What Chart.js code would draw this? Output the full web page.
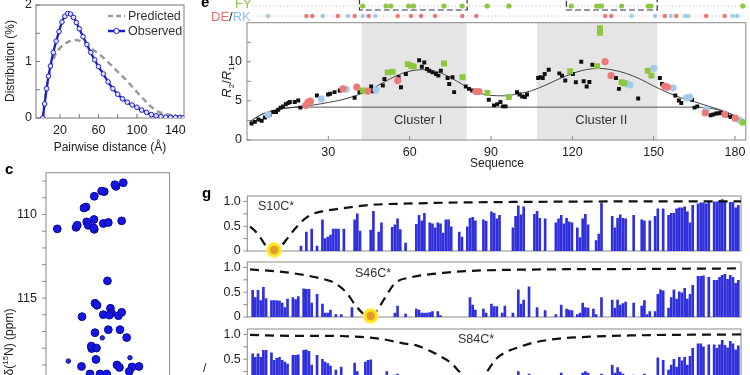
<!DOCTYPE html>
<html>
<head>
<meta charset="utf-8">
<script src="https://cdn.jsdelivr.net/npm/chart.js@4.4.1/dist/chart.umd.min.js"></script>
<style>
  html, body { margin: 0; padding: 0; background: #fff; }
  body { width: 750px; height: 375px; overflow: hidden; position: relative;
         font-family: "Liberation Sans", Arial, sans-serif; color: #222; }
  canvas { position: absolute; }
  .t { position: absolute; font-size: 12px; white-space: nowrap; line-height: 1; }
  .rot { transform: translate(-50%, -50%) rotate(-90deg); }
  .b { font-weight: bold; font-size: 15px; color: #000; }
  sup, sub { font-size: 8px; line-height: 0; }
</style>
</head>
<body>
<canvas id="cB" style="left:0;top:0" width="200" height="160"></canvas>
<canvas id="cC" style="left:0;top:160px" width="200" height="230"></canvas>
<canvas id="cE" style="left:200px;top:0" width="550" height="170"></canvas>
<canvas id="cG1" style="left:200px;top:187.3px" width="550" height="73"></canvas>
<canvas id="cG2" style="left:200px;top:253px" width="550" height="73"></canvas>
<canvas id="cG3" style="left:200px;top:320.3px" width="550" height="73"></canvas>

<div class="t rot" style="left:10px;top:61px">Distribution (%)</div>
<div class="t" style="left:110px;top:147px;transform:translate(-50%,-50%)">Pairwise distance (Å)</div>
<div class="t b" style="left:5px;top:161px">c</div>
<div class="t rot" style="left:9px;top:342px">δ(<sup>15</sup>N) (ppm)</div>
<div class="t b" style="left:201px;top:-6px">e</div>
<div class="t" style="left:235px;top:-3px;font-size:13px;color:#8dc63f">FY</div>
<div class="t" style="left:211px;top:10px;font-size:13px"><span style="color:#ea6f6c">DE</span>/<span style="color:#8fc3ea">RK</span></div>
<div class="t rot" style="left:226px;top:82px;font-size:13px"><i>R</i><sub>2</sub>/<i>R</i><sub>1</sub></div>
<div class="t" style="left:497px;top:163px;transform:translate(-50%,-50%)">Sequence</div>
<div class="t b" style="left:202px;top:185px">g</div>
<div class="t" style="left:203px;top:362px">/</div>

<script>
// ---- b: pairwise distance distribution
const distX = [2, 4, 6, 8, 10, 13, 16, 19, 22, 25, 28, 31, 34, 37, 40, 44, 48, 52, 56, 60, 65, 70, 75, 80, 85, 90, 95, 100, 105, 110, 115, 120, 125, 130, 135, 140, 145, 148];
const observed = [0, 0.25, 0.52, 0.74, 0.92, 1.16, 1.36, 1.53, 1.70, 1.80, 1.85, 1.84, 1.78, 1.69, 1.58, 1.44, 1.30, 1.16, 1.03, 0.91, 0.78, 0.64, 0.52, 0.42, 0.34, 0.28, 0.23, 0.19, 0.14, 0.10, 0.06, 0.04, 0.025, 0.015, 0.01, 0.01, 0.01, 0];
const predX = [2, 5, 8, 12, 16, 20, 25, 30, 35, 40, 45, 50, 55, 60, 70, 80, 90, 100, 110, 120, 130, 140, 148];
const predicted = [0, 0.40, 0.72, 0.98, 1.15, 1.24, 1.31, 1.36, 1.38, 1.37, 1.33, 1.27, 1.20, 1.14, 0.99, 0.82, 0.65, 0.46, 0.28, 0.13, 0.07, 0.04, 0.02];
const seriesNames = ['Predicted', 'Observed'];
const distTicks = [20, 40, 60, 80, 100, 120, 140];
const distLabels = [20, 60, 100, 140];
const distYTicks = [0, 0.5, 1, 1.5, 2];
const distYLabels = [0, 1, 2];

// ---- c: 15N HSQC peaks [1H ppm, 15N ppm]
const hsqcStrong = [[8.325,108.10],[8.407,108.32],[8.42,108.22],[8.540,108.63],[8.57,108.60],[8.653,108.91],[8.747,109.55],[8.770,109.61],[9.072,110.86],[8.860,110.77],[8.846,110.64],[8.739,110.44],[8.721,110.65],[8.656,110.30],[8.653,110.89],[8.66,110.80],[8.551,110.54],[8.494,110.48],[8.343,110.38],[8.504,113.97],[8.645,115.31],[8.622,115.43],[8.792,116.11],[8.551,115.99],[8.470,115.61],[8.458,115.89],[8.483,116.02],[8.379,116.05],[8.343,115.85],[8.645,117.07],[8.494,116.89],[8.362,116.89],[8.286,117.36],[8.682,118.02],[8.687,117.87],[8.628,117.99],[8.634,118.67],[8.798,119.09],[8.396,119.00],[8.368,119.15],[8.226,119.12],[8.147,119.09],[8.257,119.39],[8.702,119.54],[8.588,119.54],[8.513,119.54]];
const hsqcWeak = [[8.562,117.38],[8.947,118.77],[8.249,118.57]];
const ppmTicks = [108, 109, 110, 111, 112, 113, 114, 115, 116, 117, 118, 119, 120];
const ppmLabels = [110, 115, 120];

// ---- e: R2/R1 along the sequence [residue, R2/R1]
const otherPts = [[1.7,2.11],[2.9,2.32],[4.2,2.62],[5.4,2.45],[6.6,2.87],[8.5,3.25],[9.7,3.59],[10.7,3.59],[11.5,3.88],[12.4,4.14],[13.3,4.30],[14.3,4.56],[15.2,4.73],[15.8,4.85],[17.6,4.85],[18.9,5.06],[19.7,4.14],[25.8,5.70],[29.9,5.82],[30.7,5.91],[32.3,6.12],[34.2,6.33],[39.7,5.40],[41.5,6.12],[45.8,6.84],[46.4,6.24],[50.1,6.96],[50.7,7.81],[55.9,8.02],[56.8,6.75],[58.6,8.44],[63.5,10.21],[64.5,9.37],[65.4,9.92],[66.4,9.07],[67.2,8.86],[68.4,8.65],[69.7,8.44],[70.6,8.23],[71.5,8.86],[74.0,7.93],[74.6,7.17],[75.8,8.02],[76.4,6.12],[80.7,6.84],[81.9,6.54],[83.1,6.33],[89.2,5.15],[91.1,4.43],[92.3,4.56],[93.5,4.85],[94.4,4.30],[95.4,4.30],[99.6,6.12],[100.5,5.82],[101.5,5.57],[102.5,5.49],[103.3,5.82],[107.4,7.93],[108.2,8.02],[109.1,7.93],[109.8,8.44],[111.3,8.99],[115.2,8.52],[116.2,8.23],[117.4,7.60],[120.2,8.44],[121.3,7.39],[123.3,10.0],[124.2,7.51],[125.3,6.84],[126.3,7.43],[127.4,9.62],[136.1,7.93],[137.2,6.54],[144.3,5.32],[152.3,7.93],[153.1,7.17],[158.0,5.70],[159.3,5.06],[160.2,4.73],[164.2,5.15],[165.1,4.14],[166.1,4.30],[171.0,3.17],[172.0,3.25],[173.1,3.38],[174.0,3.42],[174.9,3.46],[177.1,3.17],[178.4,2.95]];
const fyPts = [[42.7,6.33],[51.9,8.65],[53.7,8.73],[59.3,9.70],[60.5,9.49],[61.5,9.41],[72.7,9.79],[79.5,8.02],[88.7,6.0],[96.6,5.49],[119.2,8.78],[129.1,9.45],[130.2,14.3],[130.2,13.7],[138.2,7.39],[139.2,7.26],[147.8,8.86],[149.2,8.23],[182.9,2.24]];
const dePts = [[21.7,4.43],[22.5,4.85],[23.4,4.98],[35.4,6.54],[40.5,6.75],[44.6,6.24],[55.6,7.60],[84.4,6.20],[85.6,6.20],[132.1,10.04],[134.3,8.23],[154.1,6.88],[155.1,6.75],[169.0,3.46],[176.2,3.29],[180.1,2.79]];
const rkPts = [[7.8,3.25],[27.4,5.23],[36.6,6.50],[47.6,6.41],[140.0,7.17],[141.3,7.05],[150.1,9.16],[157.2,6.67],[162.1,5.40],[163.3,5.49],[169.4,3.88],[181.7,2.53]];
const curveX = [1, 3, 5, 8, 12, 16, 20, 25, 30, 35, 40, 45, 50, 55, 60, 65, 70, 75, 80, 85, 90, 95, 100, 105, 110, 115, 120, 125, 130, 135, 140, 145, 150, 155, 160, 165, 170, 175, 180, 184];
const fitCurve = [2.3, 2.8, 3.2, 3.6, 3.95, 4.15, 4.3, 4.5, 4.8, 5.15, 5.65, 6.35, 7.3, 8.2, 8.8, 9.0, 8.75, 8.0, 7.0, 6.1, 5.7, 5.65, 5.9, 6.3, 7.0, 7.8, 8.5, 9.0, 9.15, 8.95, 8.5, 7.8, 6.9, 6.1, 5.4, 4.9, 4.35, 3.8, 3.1, 2.4];
const coilCurve = [2.3, 2.8, 3.2, 3.6, 3.95, 4.12, 4.2, 4.2, 4.2, 4.2, 4.2, 4.2, 4.2, 4.2, 4.2, 4.2, 4.2, 4.2, 4.2, 4.2, 4.2, 4.2, 4.2, 4.2, 4.2, 4.2, 4.2, 4.2, 4.2, 4.2, 4.2, 4.2, 4.2, 4.2, 4.2, 4.2, 4.1, 3.75, 3.1, 2.4];
const clusterFrom = [42.3, 107];
const clusterTo = [81, 151.4];
const clusterNames = ['Cluster I', 'Cluster II'];
const fyTrack = [42.7, 51.3, 53.1, 59.6, 61.4, 72.7, 79.4, 88.6, 96.6, 119.6, 129, 130, 130.8, 138.2, 148, 149, 182.9];
const deTrack = [21.9, 24.1, 33.5, 39.7, 44.9, 55.6, 60.5, 64.2, 69.4, 79.4, 84.6, 132.1, 134.3, 154.1, 158.4, 169.4, 176.2];
const rkTrack = [7.8, 28.0, 37.2, 42.7, 47.4, 141.9, 150.5, 156.3, 161.5, 162.7, 179.2, 180.8];
const fyBoxFrom = [41.5, 117.8];
const fyBoxTo = [81.2, 151.3];
const seqTicks = [30, 60, 90, 120, 150, 180];
const r2r1Ticks = [0, 2.5, 5, 7.5, 10, 12.5];
const r2r1Labels = [0, 5, 10];

// ---- g: PRE intensity ratios [residue, I/I0]
const s10Bars = [[20,0.10],[22,0.38],[24,0.44],[26,0.10],[28,0.63],[29,0.25],[30,0.28],[31,0.32],[32,0.44],[33,0.44],[34,0.44],[36,0.44],[40,0.63],[41,0.75],[42,0.40],[46,0.42],[47,0.80],[49,0.38],[50,0.57],[54,0.48],[55,0.53],[56,0.65],[57,0.43],[59,0.16],[63,0.54],[64,0.72],[65,0.61],[66,0.76],[68,0.57],[69,0.55],[70,0.47],[71,0.57],[72,0.55],[73,0.36],[74,0.63],[75,0.63],[76,0.49],[79,0.38],[80,0.28],[82,0.49],[83,0.66],[84,0.68],[85,0.61],[88,0.63],[89,0.60],[91,0.79],[92,0.76],[93,0.65],[94,0.72],[99,0.47],[100,0.70],[101,0.91],[102,0.73],[103,0.89],[107,0.74],[108,0.80],[109,0.66],[111,0.65],[115,0.57],[116,0.65],[117,0.72],[118,0.55],[119,0.66],[120,0.59],[121,0.57],[123,0.47],[124,0.27],[125,0.65],[126,0.74],[127,0.53],[130,0.21],[131,0.34],[132,0.97],[136,0.70],[137,0.47],[138,0.66],[139,0.73],[140,0.66],[141,0.65],[144,0.72],[147,0.63],[148,0.61],[150,0.61],[152,0.70],[153,0.85],[155,0.85],[157,0.72],[158,0.76],[159,0.76],[160,0.85],[161,0.87],[162,0.87],[163,0.89],[164,0.79],[165,0.57],[166,0.92],[168,0.95],[169,0.97],[170,0.97],[171,0.95],[172,0.98],[174,0.99],[175,0.99],[176,1.01],[177,1.04],[178,0.99],[180,0.98],[181,0.98],[182,0.87],[183,0.92]];
const s46Bars = [[2,0.54],[3,0.39],[4,0.54],[5,0.33],[6,0.60],[7,0.37],[9,0.33],[10,0.33],[11,0.33],[12,0.32],[13,0.28],[14,0.19],[15,0.36],[17,0.39],[18,0.35],[19,0.41],[21,0.57],[22,0.56],[23,0.56],[24,0.28],[26,0.46],[28,0.26],[29,0.08],[30,0.08],[31,0.14],[33,0.05],[35,0.05],[39,0.19],[55,0.08],[56,0.22],[59,0.06],[63,0.16],[64,0.14],[65,0.08],[66,0.08],[67,0.08],[68,0.09],[69,0.11],[71,0.11],[72,0.03],[83,0.39],[84,0.24],[85,0.14],[88,0.16],[89,0.08],[91,0.26],[92,0.21],[93,0.21],[95,0.08],[96,0.22],[99,0.08],[101,0.55],[102,0.26],[103,0.34],[105,0.61],[108,0.19],[111,0.13],[115,0.05],[117,0.24],[119,0.16],[120,0.14],[121,0.13],[123,0.05],[124,0.08],[125,0.28],[126,0.19],[127,0.18],[129,0.16],[130,0.05],[132,0.39],[136,0.34],[137,0.18],[138,0.34],[139,0.24],[140,0.27],[141,0.30],[144,0.28],[147,0.22],[148,0.33],[149,0.05],[150,0.11],[152,0.11],[153,0.46],[154,0.55],[155,0.53],[157,0.18],[158,0.39],[159,0.55],[160,0.36],[161,0.51],[162,0.49],[163,0.58],[164,0.36],[165,0.46],[166,0.64],[168,0.82],[169,0.82],[170,0.83],[172,0.80],[174,0.74],[175,0.74],[176,0.80],[177,0.84],[178,0.86],[179,0.76],[180,0.84],[181,0.80],[182,0.68],[183,0.74]];
const s84Bars = [[2,0.61],[3,0.54],[4,0.61],[5,0.54],[6,0.68],[7,0.68],[9,0.63],[10,0.48],[11,0.52],[12,0.54],[13,0.48],[14,0.44],[15,0.40],[17,0.58],[18,0.58],[19,0.59],[21,0.68],[22,0.69],[23,0.66],[24,0.38],[26,0.58],[28,0.50],[29,0.44],[30,0.41],[31,0.36],[33,0.28],[35,0.34],[40,0.42],[41,0.25],[44,0.44],[45,0.48],[46,0.49],[52,0.25],[55,0.18],[56,0.20],[63,0.12],[64,0.10],[66,0.08],[101,0.25],[105,0.20],[117,0.22],[125,0.22],[126,0.25],[127,0.22],[132,0.20],[136,0.38],[137,0.22],[138,0.33],[139,0.24],[140,0.20],[144,0.18],[148,0.20],[153,0.53],[155,0.48],[157,0.28],[158,0.38],[159,0.50],[160,0.34],[161,0.54],[162,0.47],[163,0.54],[164,0.38],[165,0.56],[166,0.72],[168,0.81],[169,0.81],[170,0.75],[172,0.79],[174,0.79],[175,0.72],[176,0.79],[177,0.88],[178,0.78],[179,0.73],[180,0.86],[181,0.81],[182,0.69],[183,0.77]];
const pre10X = [1, 3, 5, 7, 9, 10, 11, 13, 15, 17, 19, 21, 24, 29, 38, 46, 62, 80, 100, 140, 184];
const pre10 = [0.49, 0.40, 0.26, 0.10, 0.03, 0.02, 0.03, 0.12, 0.26, 0.40, 0.52, 0.63, 0.74, 0.81, 0.88, 0.93, 0.96, 0.98, 0.99, 1.0, 1.0];
const pre46X = [1, 13, 23, 28, 32, 37, 40, 43, 45, 48, 51, 55, 61, 71, 83, 110, 150, 184];
const pre46 = [0.96, 0.91, 0.83, 0.77, 0.70, 0.49, 0.26, 0.08, 0.04, 0.11, 0.36, 0.68, 0.80, 0.88, 0.93, 0.96, 0.97, 0.98];
const pre84X = [1, 20, 32, 42, 50, 58, 63, 68, 72, 76, 79, 82, 84, 86, 88.5, 91, 93, 97, 100, 107, 117, 122, 143, 184];
const pre84 = [0.99, 0.97, 0.97, 0.95, 0.91, 0.82, 0.78, 0.67, 0.56, 0.42, 0.25, 0.08, 0.03, 0.06, 0.19, 0.38, 0.52, 0.66, 0.72, 0.84, 0.92, 0.94, 0.98, 1.0];
const mutants = ['S10C*', 'S46C*', 'S84C*'];
const labelSites = [10, 46, 84];
const preTicks = [0, 0.25, 0.5, 0.75, 1];

Chart.defaults.font.family = '"Liberation Sans", Arial, sans-serif';
Chart.defaults.font.size = 12.5;
Chart.defaults.color = '#222';
Chart.defaults.animation = false;

const FONT = '12.5px "Liberation Sans", Arial, sans-serif';
const xy = (xs, ys) => xs.map((x, i) => ({ x, y: ys[i] }));
const pairs = arr => arr.map(p => ({ x: p[0], y: p[1] }));

// box round the plot area plus short tick marks
const frame = {
  id: 'frame',
  beforeDatasetsDraw(chart, args, o) {
    const { ctx, chartArea: a } = chart;
    ctx.save();
    ctx.strokeStyle = o.color || '#8a8a8a';
    ctx.lineWidth = 1;
    ctx.strokeRect(a.left, a.top, a.right - a.left, a.bottom - a.top);
    const dir = o.inward ? 1 : -1, len = 4;
    ctx.beginPath();
    (o.axes || ['x', 'y']).forEach(id => {
      const s = chart.scales[id];
      s.ticks.forEach(t => {
        const p = s.getPixelForValue(t.value);
        if (id === 'x') { ctx.moveTo(p, a.bottom); ctx.lineTo(p, a.bottom - dir * len); }
        else { ctx.moveTo(a.left, p); ctx.lineTo(a.left + dir * len, p); }
      });
    });
    ctx.stroke();
    ctx.restore();
  }
};

const fixedTicks = (vals) => (s) => { s.ticks = vals.map(v => ({ value: v })); };
const labelIf = (list, fmt) => (v) => list.includes(v) ? (fmt ? fmt(v) : String(v)) : '';
const noGrid = { display: false, drawTicks: false };
// fixed axis size, and no extra room for labels that stick out
const fitTo = (w, h) => (s) => {
  if (w != null) s.width = w;
  if (h != null) s.height = h;
  s.paddingTop = 0; s.paddingBottom = 0; s.paddingLeft = 0; s.paddingRight = 0;
};

// ---------- b
const legendB = {
  id: 'legendB',
  afterDraw(chart) {
    const ctx = chart.ctx;
    ctx.save();
    ctx.lineWidth = 2.5;
    ctx.strokeStyle = '#9a9a9a';
    ctx.setLineDash([5, 3]);
    ctx.beginPath(); ctx.moveTo(108, 16); ctx.lineTo(125, 16); ctx.stroke();
    ctx.setLineDash([]);
    ctx.strokeStyle = '#1c1cd0';
    ctx.beginPath(); ctx.moveTo(108, 31); ctx.lineTo(125, 31); ctx.stroke();
    ctx.lineWidth = 1; ctx.fillStyle = '#fff';
    ctx.beginPath(); ctx.arc(116.5, 31, 2.6, 0, Math.PI * 2); ctx.fill(); ctx.stroke();
    ctx.fillStyle = '#333';
    ctx.font = FONT;
    ctx.textBaseline = 'middle';
    ctx.fillText(seriesNames[0], 128, 16.5);
    ctx.fillText(seriesNames[1], 128, 31.5);
    ctx.restore();
  }
};

new Chart(document.getElementById('cB'), {
  type: 'line',
  data: {
    datasets: [
      { label: seriesNames[0], data: xy(predX, predicted), borderColor: '#9a9a9a', borderWidth: 2.5,
        borderDash: [6, 4], pointRadius: 0, cubicInterpolationMode: 'monotone', order: 2 },
      { label: seriesNames[1], data: xy(distX, observed), borderColor: '#1c1cd0', borderWidth: 2.3,
        pointRadius: 2.3, pointBorderWidth: 1, pointBackgroundColor: '#dfe2ff', pointBorderColor: '#2222c8',
        cubicInterpolationMode: 'monotone', order: 1 }
    ]
  },
  options: {
    responsive: false, devicePixelRatio: 1,
    layout: { padding: { left: 0, top: 1, right: 16, bottom: 12 } },
    plugins: { legend: { display: false }, tooltip: { enabled: false },
      frame: { inward: true, color: '#777' } },
    scales: {
      x: { type: 'linear', min: -5, max: 149, grid: noGrid, border: { display: false },
        afterBuildTicks: fixedTicks(distTicks), afterFit: fitTo(null, 30),
        ticks: { padding: 5, autoSkip: false, maxRotation: 0, callback: labelIf(distLabels) } },
      y: { min: 0, max: 2, grid: noGrid, border: { display: false },
        afterBuildTicks: fixedTicks(distYTicks), afterFit: fitTo(36, null),
        ticks: { padding: 4, autoSkip: false, callback: labelIf(distYLabels) } }
    }
  },
  plugins: [frame, legendB]
});

// ---------- c
new Chart(document.getElementById('cC'), {
  type: 'scatter',
  data: {
    datasets: [
      { data: pairs(hsqcStrong), pointRadius: 3.9, backgroundColor: '#1717e4', borderColor: '#08089a', borderWidth: 1 },
      { data: pairs(hsqcWeak), pointRadius: 2.2, backgroundColor: '#2a2ae4', borderColor: '#08089a', borderWidth: 1 }
    ]
  },
  options: {
    responsive: false, devicePixelRatio: 1,
    layout: { padding: { left: 0, top: 12.7, right: 30.4, bottom: 3.9 } },
    plugins: { legend: { display: false }, tooltip: { enabled: false },
      frame: { inward: false, axes: ['y'], color: '#8a8a8a' } },
    scales: {
      x: { type: 'linear', reverse: true, min: 7.8, max: 9.2, display: false },
      y: { reverse: true, min: 107.5, max: 120.2, grid: noGrid, border: { display: false },
        afterBuildTicks: fixedTicks(ppmTicks), afterFit: fitTo(46, null),
        ticks: { padding: 9, autoSkip: false, callback: labelIf(ppmLabels) } }
    }
  },
  plugins: [frame]
});

// ---------- e
const shade = {
  id: 'shade',
  beforeDatasetsDraw(chart) {
    const { ctx, chartArea: a, scales: { x } } = chart;
    ctx.save();
    ctx.fillStyle = '#e5e5e5';
    clusterFrom.forEach((s, i) => {
      const x1 = x.getPixelForValue(s), x2 = x.getPixelForValue(clusterTo[i]);
      ctx.fillRect(x1, a.top, x2 - x1, a.bottom - a.top);
    });
    ctx.fillStyle = '#333';
    ctx.font = '13px "Liberation Sans", Arial, sans-serif';
    ctx.textAlign = 'center';
    ctx.textBaseline = 'middle';
    clusterFrom.forEach((s, i) => {
      ctx.fillText(clusterNames[i], x.getPixelForValue((s + clusterTo[i]) / 2) + 4, 120);
    });
    ctx.restore();
  }
};
const tracks = {
  id: 'tracks',
  afterDraw(chart) {
    const { ctx, chartArea: a, scales: { x } } = chart;
    const px = v => x.getPixelForValue(v);
    ctx.save();
    ctx.strokeStyle = '#b8b8b8'; ctx.lineWidth = 1; ctx.setLineDash([1, 2.5]);
    ctx.beginPath();
    ctx.moveTo(a.left + 5, 6); ctx.lineTo(a.right, 6);
    ctx.moveTo(a.left + 10, 16); ctx.lineTo(a.right, 16);
    ctx.stroke();
    ctx.setLineDash([6, 3]); ctx.strokeStyle = '#2d3152'; ctx.lineWidth = 1.2;
    fyBoxFrom.forEach((s, i) => ctx.strokeRect(px(s), -3, px(fyBoxTo[i]) - px(s), 13));
    ctx.setLineDash([]);
    const dot = (v, y, c, r) => { ctx.fillStyle = c; ctx.beginPath(); ctx.arc(px(v), y, r, 0, Math.PI * 2); ctx.fill(); };
    fyTrack.forEach(v => dot(v, 6, '#8dc63f', 2.6));
    deTrack.forEach(v => dot(v, 16, '#ee7673', 2.2));
    rkTrack.forEach(v => dot(v, 16, '#9fcbee', 2.2));
    ctx.restore();
  }
};

new Chart(document.getElementById('cE'), {
  type: 'line',
  data: {
    datasets: [
      { data: xy(curveX, coilCurve), borderColor: '#555', borderWidth: 1, pointRadius: 0, cubicInterpolationMode: 'monotone', order: 6 },
      { data: xy(curveX, fitCurve), borderColor: '#444', borderWidth: 1, pointRadius: 0, cubicInterpolationMode: 'monotone', order: 5 },
      { data: pairs(otherPts), showLine: false, pointStyle: 'rect', pointRadius: 2.8, pointBorderWidth: 0, pointBackgroundColor: '#111', order: 4 },
      { data: pairs(rkPts), showLine: false, pointRadius: 3.6, pointBorderWidth: 0, pointBackgroundColor: '#a3cbee', order: 3 },
      { data: pairs(dePts), showLine: false, pointRadius: 3.6, pointBorderWidth: 0, pointBackgroundColor: '#ee7a77', order: 2 },
      { data: pairs(fyPts), showLine: false, pointStyle: 'rect', pointRadius: 4.2, pointBorderWidth: 0, pointBackgroundColor: '#8dc63f', order: 1 }
    ]
  },
  options: {
    responsive: false, devicePixelRatio: 1,
    layout: { padding: { left: 0, top: 22.7, right: 2, bottom: 0 } },
    plugins: { legend: { display: false }, tooltip: { enabled: false },
      frame: { inward: true, color: '#888' } },
    scales: {
      x: { type: 'linear', min: 0, max: 184, grid: noGrid, border: { display: false },
        afterBuildTicks: fixedTicks(seqTicks), afterFit: fitTo(null, 30),
        ticks: { padding: 5, autoSkip: false, maxRotation: 0 } },
      y: { min: 0, max: 15, grid: noGrid, border: { display: false },
        afterBuildTicks: fixedTicks(r2r1Ticks), afterFit: fitTo(47, null),
        ticks: { padding: 5, autoSkip: false, callback: labelIf(r2r1Labels) } }
    }
  },
  plugins: [shade, frame, tracks]
});

// ---------- g
const tagText = {
  id: 'tagText',
  afterDraw(chart, args, o) {
    const ctx = chart.ctx;
    ctx.save();
    ctx.fillStyle = '#333';
    ctx.font = '12.5px "Liberation Sans", Arial, sans-serif';
    ctx.textBaseline = 'middle';
    ctx.fillText(o.text, o.x, o.y);
    ctx.restore();
  }
};

function prePanel(id, bars, preX, pre, site, name, tx, ty) {
  new Chart(document.getElementById(id), {
    type: 'bar',
    data: {
      datasets: [
        { type: 'line', data: [{ x: site, y: 0.02 }], showLine: false, pointRadius: 4.2, pointBorderWidth: 0,
          pointBackgroundColor: '#e39a2b', clip: false, order: 0 },
        { type: 'line', data: [{ x: site, y: 0.02 }], showLine: false, pointRadius: 7.5, pointBorderWidth: 1.5,
          pointBorderColor: 'rgba(255,245,120,0.7)', pointBackgroundColor: '#fbe322', clip: false, order: 1 },
        { type: 'line', data: xy(preX, pre), borderColor: '#111', borderWidth: 2.2, borderDash: [9, 6],
          pointRadius: 0, cubicInterpolationMode: 'monotone', order: 2 },
        { data: pairs(bars), backgroundColor: '#2f2fdc', borderColor: '#1b1bb0', borderWidth: 0,
          barThickness: 2, grouped: false, order: 3 }
      ]
    },
    options: {
      responsive: false, devicePixelRatio: 1,
      layout: { padding: { left: 0, top: 7, right: 2.5, bottom: 7 } },
      plugins: { legend: { display: false }, tooltip: { enabled: false },
        frame: { inward: false, axes: ['y'], color: '#8a8a8a' },
        tagText: { text: name, x: tx, y: ty } },
      scales: {
        x: { type: 'linear', min: 0, max: 184, offset: false, display: false },
        y: { min: 0, max: 1.11, grid: noGrid, border: { display: false },
          afterBuildTicks: fixedTicks(preTicks), afterFit: fitTo(47.3, null),
          ticks: { padding: 6.5, autoSkip: false, callback: v => v === 1 ? '1.0' : v === 0.5 ? '0.5' : v === 0 ? '0' : '' } }
      }
    },
    plugins: [frame, tagText]
  });
}

prePanel('cG1', s10Bars, pre10X, pre10, labelSites[0], mutants[0], 58, 19.5);
prePanel('cG2', s46Bars, pre46X, pre46, labelSites[1], mutants[1], 155, 21);
prePanel('cG3', s84Bars, pre84X, pre84, labelSites[2], mutants[2], 258, 19.5);
</script>
</body>
</html>
